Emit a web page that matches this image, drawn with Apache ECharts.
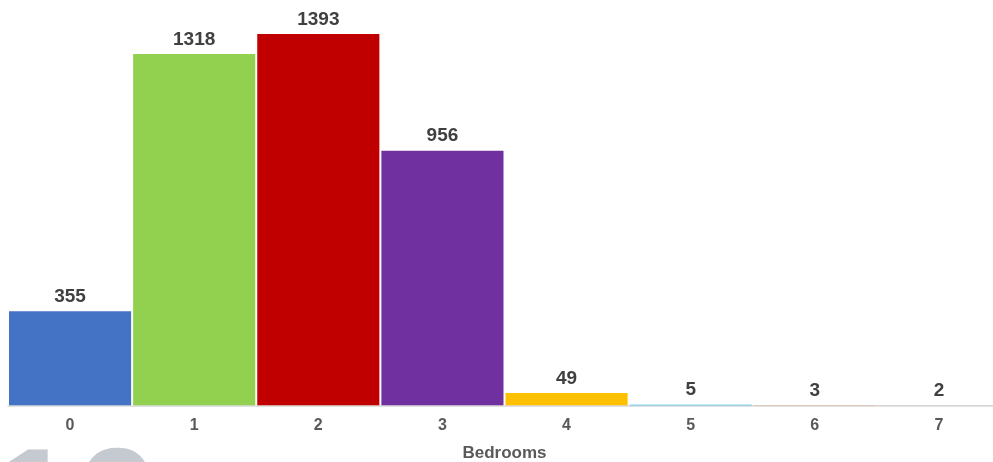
<!DOCTYPE html>
<html>
<head>
<meta charset="utf-8">
<script src="https://cdn.jsdelivr.net/npm/echarts@6/dist/echarts.min.js"></script>
<style>
  html, body { margin: 0; padding: 0; background: #ffffff; }
  #chart { width: 993px; height: 462px; }
</style>
</head>
<body>
<div id="chart"></div>
<script>
// Listings by number of bedrooms
const bedrooms = ['0', '1', '2', '3', '4', '5', '6', '7'];
const counts = [355, 1318, 1393, 956, 49, 5, 3, 2];
const barColors = ['#4472c4', '#92d050', '#c00000', '#7030a0', '#ffc000', '#00b0f0', '#ed7d31', '#a5a5a5'];

const chart = echarts.init(document.getElementById('chart'), null, { renderer: 'canvas' });

chart.setOption({
  animation: false,
  backgroundColor: '#ffffff',
  grid: { left: 8, width: 993, top: 5.5, bottom: 56, containLabel: false, outerBoundsMode: 'none' },
  xAxis: {
    type: 'category',
    z: 3,
    data: bedrooms,
    name: 'Bedrooms',
    nameLocation: 'middle',
    nameGap: 39,
    nameTextStyle: { color: '#595959', fontFamily: 'Liberation Sans, Arial, sans-serif', fontWeight: 'bold', fontSize: 17 },
    axisLine: { show: true, lineStyle: { color: '#d9d9d9', width: 1.5 } },
    axisTick: { show: false },
    axisLabel: { color: '#595959', fontFamily: 'Liberation Sans, Arial, sans-serif', fontWeight: 'bold', fontSize: 16, margin: 12 }
  },
  yAxis: {
    type: 'value',
    min: 0,
    max: 1500,
    show: false,
    splitLine: { show: false }
  },
  series: [{
    type: 'bar',
    data: counts.map((v, i) => ({ value: v, itemStyle: { color: barColors[i] } })),
    barCategoryGap: '1.6%',
    label: {
      show: true,
      position: 'top',
      distance: 5,
      color: '#404040',
      fontFamily: 'Liberation Sans, Arial, sans-serif',
      fontWeight: 'bold',
      fontSize: 19
    }
  }],
  graphic: [{
    type: 'text',
    left: -8,
    top: 437,
    silent: true,
    style: {
      text: '10',
      font: 'bold 150px "Liberation Sans", Arial, sans-serif',
      fill: '#c4cacf'
    }
  }]
});
</script>
</body>
</html>
